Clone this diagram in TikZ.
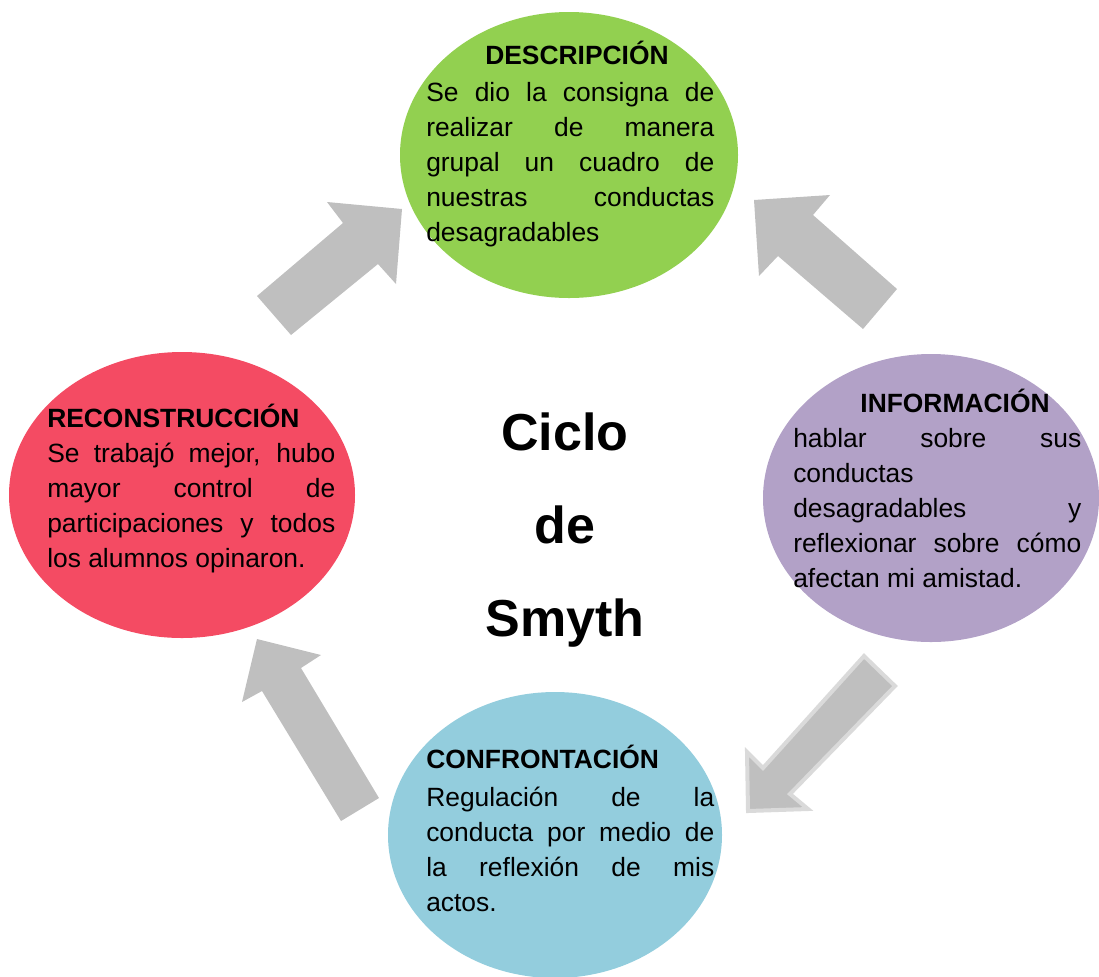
\documentclass[tikz,border=0pt]{standalone}
\usepackage{fontspec}
\setmainfont{Liberation Sans}
\usetikzlibrary{shapes,positioning}
\definecolor{greenC}{HTML}{92D050}
\definecolor{purpleC}{HTML}{B2A1C7}
\definecolor{blueC}{HTML}{93CDDD}
\definecolor{redC}{HTML}{F44B63}
\definecolor{arrowC}{HTML}{BFBFBF}
\definecolor{rimC}{HTML}{DADADA}
\newcommand{\jl}[1]{\makebox[216pt][s]{#1}}

\begin{document}
\begin{tikzpicture}
  [x=0.75pt,y=-0.75pt,
   cycleN/.style={ellipse,inner sep=0pt},
   headN/.style={inner sep=0pt,font=\fontsize{19.8}{26.25}\selectfont\bfseries},
   bodyN/.style={inner sep=0pt,align=left,anchor=north west,
     font=\fontsize{19.8}{26.25}\selectfont},
   blockA/.style={fill=arrowC}]

  \useasboundingbox (0,0) rectangle (1099,976);

  % the four stages
  \node[cycleN,fill=greenC,minimum width=253.5pt,minimum height=214.5pt] (desc) at (569,155) {};
  \node[cycleN,fill=purpleC,minimum width=252pt,minimum height=216pt] (info) at (931,498) {};
  \node[cycleN,fill=blueC,minimum width=250.5pt,minimum height=214.5pt] (conf) at (555,835) {};
  \node[cycleN,fill=redC,minimum width=259.5pt,minimum height=214.5pt] (reco) at (182,495) {};

  % block arrows
  \fill[blockA] (257,296) -- (343,223) -- (327,202) -- (402,209) -- (396,284)
    -- (378,264) -- (291,335) -- cycle;
  \fill[blockA] (863,329) -- (778,256) -- (759,276) -- (754,200) -- (830,195)
    -- (813,215) -- (897,289) -- cycle;
  \filldraw[fill=arrowC,draw=rimC,line width=3pt,line join=miter]
    (864,656) -- (895,686) -- (790,794) -- (808,809) -- (748,811) -- (747,752)
    -- (763,768) -- cycle;
  \fill[blockA] (341,821) -- (262,691) -- (242,702) -- (257,639) -- (321,655)
    -- (301,668) -- (379,798) -- cycle;

  % texts
  \node[headN,anchor=base] (descH) at (577,64) {DESCRIPCIÓN};
  \node[bodyN] (descT) at (426,82) {\jl{Se dio la consigna de}\\
    \jl{realizar de manera}\\ \jl{grupal un cuadro de}\\
    \jl{nuestras conductas}\\ desagradables};

  \node[headN,anchor=base] (infoH) at (955,412) {INFORMACIÓN};
  \node[bodyN] (infoT) at (793,428) {\jl{hablar sobre sus}\\ conductas\\
    \jl{desagradables y}\\ \jl{reflexionar sobre cómo}\\ afectan mi amistad.};

  \node[headN,anchor=base west] (confH) at (426,768) {CONFRONTACIÓN};
  \node[bodyN] (confT) at (426,787) {\jl{Regulación de la}\\
    \jl{conducta por medio de}\\ \jl{la reflexión de mis}\\ actos.};

  \node[headN,anchor=base west] (recoH) at (47,427) {RECONSTRUCCIÓN};
  \node[bodyN] (recoT) at (47,443) {\jl{Se trabajó mejor, hubo}\\
    \jl{mayor control de}\\ \jl{participaciones y todos}\\ los alumnos opinaron.};

  \node[inner sep=0pt,align=center,font=\fontsize{39}{70}\selectfont\bfseries]
    (title) at (565,530) {Ciclo\\ de\\ Smyth};

\end{tikzpicture}
\end{document}
